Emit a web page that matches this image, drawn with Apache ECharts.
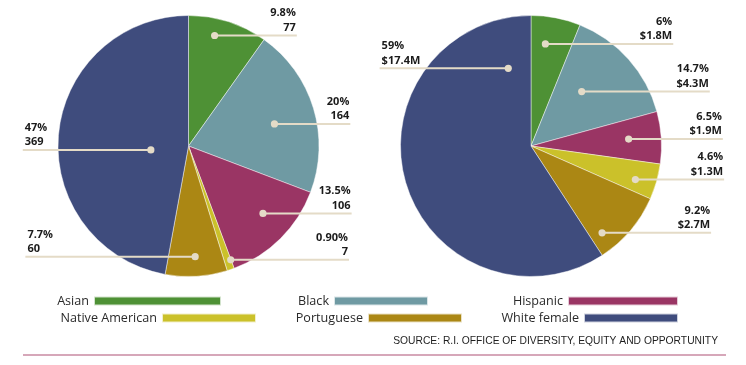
<!DOCTYPE html>
<html>
<head>
<meta charset="utf-8">
<script src="https://cdn.jsdelivr.net/npm/echarts@6/dist/echarts.min.js"></script>
<style>
html,body{margin:0;padding:0;background:#fff;}
#chart{width:746px;height:365px;}
</style>
</head>
<body>
<div id="chart"></div>
<script>
// ---- data ----
const categories = ['Asian', 'Black', 'Hispanic', 'Native American', 'Portuguese', 'White female'];
const countValues = [77, 164, 106, 7, 60, 369];
const countPctLabels = ['9.8%', '20%', '13.5%', '0.90%', '7.7%', '47%'];
const contractValues = [1.8, 4.3, 1.9, 1.3, 2.7, 17.4];
const contractPctLabels = ['6%', '14.7%', '6.5%', '4.6%', '9.2%', '59%'];
const contractAmountLabels = ['$1.8M', '$4.3M', '$1.9M', '$1.3M', '$2.7M', '$17.4M'];
const sourceText = 'SOURCE: R.I. OFFICE OF DIVERSITY, EQUITY AND OPPORTUNITY';

// ---- styling / annotation placement ----
const colors = ['#4e9135', '#6f9aa3', '#9a3564', '#cbc12a', '#ab8714', '#3f4c7d'];
const beige = '#e4dbc7';
// per label: [angle offset from slice middle (deg), dot radius fraction, line end x (fraction of radius from centre)]
const labelAnchors = [
  [[-4.4, 0.87, 0.83], [2.5, 0.68, 1.24], [-3, 0.77, 1.25], [-1.5, 0.93, 1.23], [0, 0.85, -1.25], [-11.2, 0.29, -1.27]],
  [[-3, 0.79, 1.09], [-5.4, 0.57, 1.37], [-0.4, 0.75, 1.47], [1.9, 0.84, 1.48], [10.3, 0.86, 1.38], [90.2, 0.62, -1.16]]
];
// legend: [right edge of swatch, swatch width, row]
const legendLayout = [[222, 127, 0], [429, 94, 0], [679, 110, 0], [257, 94, 1], [463, 94, 1], [679, 94, 1]];

const chart = echarts.init(document.getElementById('chart'), null, {renderer: 'canvas'});

function anchor(s, i) {
  const lay = chart.getModel().getSeriesByIndex(s).getData().getItemLayout(i);
  const mid = (lay.startAngle + lay.endAngle) / 2;
  const cfg = labelAnchors[s][i];
  const a = mid + cfg[0] * Math.PI / 180;
  const dx = lay.cx + lay.r * cfg[1] * Math.cos(a);
  const dy = lay.cy + lay.r * cfg[1] * Math.sin(a);
  const ex = lay.cx + lay.r * cfg[2];
  return {dot: [dx, dy], end: [ex, dy], right: cfg[2] > 0};
}

function labelLayout(p) {
  const an = anchor(p.seriesIndex, p.dataIndex);
  return {
    x: an.right ? an.end[0] - 1 : an.end[0] + 2,
    y: an.end[1] - 0.5,
    align: an.right ? 'right' : 'left',
    verticalAlign: 'bottom'
  };
}

function pieSeries(center, values, fmt) {
  return {
    type: 'pie',
    center: center,
    radius: 130.5,
    startAngle: 90,
    clockwise: true,
    avoidLabelOverlap: false,
    animation: false,
    data: categories.map((c, i) => ({name: c, value: values[i], itemStyle: {color: colors[i]}})),
    itemStyle: {borderColor: 'rgba(255,255,255,0.75)', borderWidth: 0.6},
    emphasis: {disabled: true},
    label: {
      show: true,
      position: 'outside',
      formatter: fmt,
      fontFamily: 'Open Sans',
      fontWeight: 'bold',
      fontSize: 11,
      lineHeight: 14.5,
      color: '#1b1b1b'
    },
    labelLine: {show: false},
    labelLayout: labelLayout
  };
}

const legends = categories.map((c, i) => {
  const L = legendLayout[i];
  return {
    data: [c],
    right: 746 - L[0],
    top: L[2] === 0 ? 294 : 311,
    padding: 0,
    align: 'right',
    icon: 'rect',
    itemWidth: L[1],
    itemHeight: 9,
    selectedMode: false,
    textStyle: {fontFamily: 'Open Sans', fontSize: 12.6, lineHeight: 14, color: '#2a2a2a', padding: [0, 0, 0, 0]}
  };
});

const option = {
  backgroundColor: '#ffffff',
  animation: false,
  legend: legends,
  series: [
    pieSeries([188.5, 146], countValues, p => countPctLabels[p.dataIndex] + '\n' + countValues[p.dataIndex]),
    pieSeries([531, 146], contractValues, p => contractPctLabels[p.dataIndex] + '\n' + contractAmountLabels[p.dataIndex])
  ],
  graphic: [
    {
      type: 'text', x: 718, y: 341, scaleX: 0.935, z: 10,
      style: {text: sourceText, x: 0, y: 0, align: 'right', verticalAlign: 'middle',
              font: '11px "Liberation Sans", Arial, sans-serif', fill: '#1e1e1e'}
    },
    {
      type: 'line', z: 10,
      shape: {x1: 23, y1: 355, x2: 726, y2: 355},
      style: {stroke: '#c98aa2', lineWidth: 1.5}
    }
  ]
};
chart.setOption(option);

// leader lines and dots for each label, from the pie's own slice layout
const marks = [];
for (let s = 0; s < 2; s++) {
  for (let i = 0; i < categories.length; i++) {
    const an = anchor(s, i);
    marks.push({type: 'line', z: 20, shape: {x1: an.dot[0], y1: an.dot[1], x2: an.end[0], y2: an.end[1]},
                style: {stroke: beige, lineWidth: 2}});
    marks.push({type: 'circle', z: 21, shape: {cx: an.dot[0], cy: an.dot[1], r: 3.6}, style: {fill: beige}});
  }
}
chart.setOption({graphic: option.graphic.concat(marks)});
</script>
</body>
</html>
